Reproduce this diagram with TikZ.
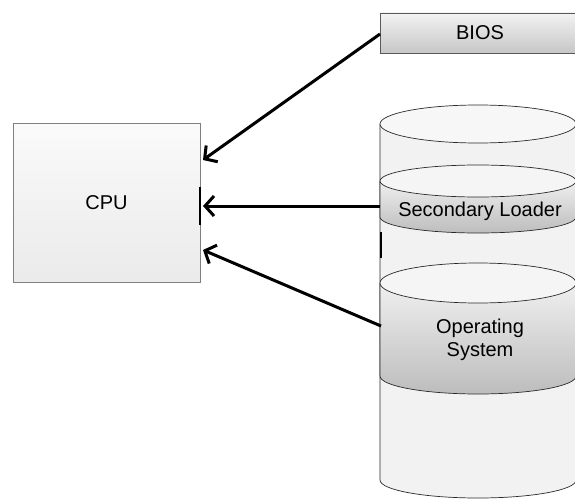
\documentclass[tikz,border=0pt]{standalone}
\usepackage{fontspec}
\setmainfont{Liberation Sans}
\usetikzlibrary{arrows.meta,shadows}
\definecolor{cylfill}{HTML}{F2F2F2}
\definecolor{edge}{HTML}{2A2A2A}
\begin{document}
\begin{tikzpicture}[x=1pt,y=1pt,
  lbl/.style={font=\fontsize{20}{24}\selectfont, text=black, align=center},
  arr/.style={line width=3pt, black, -{Straight Barb[length=9pt,width=20pt]}},
  disk/.style={top color=white!94!black, bottom color=white!74!black, draw=none},
  ring/.style={draw=edge, line width=0.7pt}]
\useasboundingbox (0,0) rectangle (575,499);
% CPU
\node[draw=white!50!black, line width=1pt, top color=white!98!black, bottom color=white!92!black,
  minimum width=187pt, minimum height=158pt, inner sep=0pt] (cpu) at (106.5,296) {};
\node[lbl] (cputxt) at (106.5,296) {CPU};
\draw[line width=1.6pt, black] (200,312) -- (200,274);
% BIOS
\path[draw=white!35!black, line width=0.8pt, top color=white!95!black, bottom color=white!78!black,
  drop shadow={shadow xshift=1pt, shadow yshift=-1.5pt, opacity=0.35}]
  (380,446) rectangle (600,486);
\node[lbl] (bios) at (480,466) {BIOS};
\coordinate (biosw) at (380,465);
% cylinder body
\path[fill=cylfill] (380,375) -- (380,19) arc[start angle=180,end angle=360,x radius=98,y radius=18] -- (576,375) -- cycle;
\draw[ring] (380,375) -- (380,19) arc[start angle=180,end angle=360,x radius=98,y radius=18] -- (576,375);
\draw[ring, fill=white!97!black] (478,375) ellipse [x radius=98, y radius=19];
% Secondary loader disk
\path[disk] (380,318) -- (380,282) arc[start angle=180,end angle=360,x radius=98,y radius=16] -- (576,318) -- cycle;
\draw[ring] (380,318) -- (380,282) arc[start angle=180,end angle=360,x radius=98,y radius=16] -- (576,318);
\draw[ring, fill=white!96!black] (478,318) ellipse [x radius=98, y radius=16];
\node[lbl] (sl) at (480,288) {Secondary Loader};
% Operating system disk
\path[disk] (380,216) -- (380,123) arc[start angle=180,end angle=360,x radius=98,y radius=18] -- (576,216) -- cycle;
\draw[ring] (380,216) -- (380,123) arc[start angle=180,end angle=360,x radius=98,y radius=18] -- (576,216);
\draw[ring, fill=white!96!black] (478,216) ellipse [x radius=98, y radius=20];
\node[lbl] (os) at (480,159) {Operating\\[-1pt]System};
\draw[line width=1.6pt, black] (381,267) -- (381,241);
% connectors
\coordinate (c1) at (203,339);
\coordinate (c2) at (203,293);
\coordinate (c3) at (203,249);
\coordinate (s2) at (380,293);
\coordinate (s3) at (381,173);
\draw[arr] (biosw) -- (c1);
\draw[arr] (s2) -- (c2);
\draw[arr] (s3) -- (c3);
\end{tikzpicture}
\end{document}
